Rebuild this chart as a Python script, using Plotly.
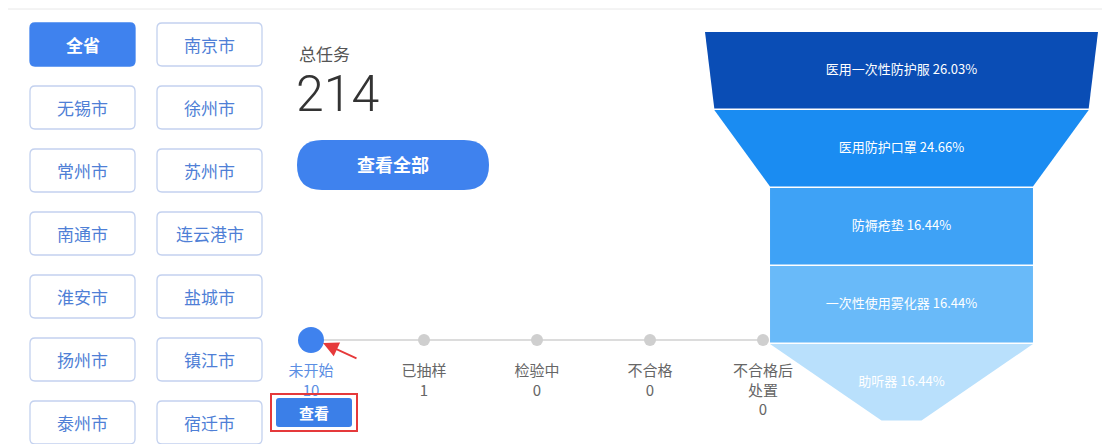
import plotly.graph_objects as go

# ---------------- data ----------------
cities = ["全省", "南京市", "无锡市", "徐州市", "常州市", "苏州市", "南通市",
          "连云港市", "淮安市", "盐城市", "扬州市", "镇江市", "泰州市", "宿迁市"]
selected_city = "全省"

total_label = "总任务"
total_tasks = 214

stages = ["未开始", "已抽样", "检验中", "不合格", "不合格后<br>处置"]
stage_counts = [10, 1, 0, 0, 0]
current_stage = 0

products = ["医用一次性防护服", "医用防护口罩", "防褥疮垫", "一次性使用雾化器", "助听器"]
product_pct = [26.03, 24.66, 16.44, 16.44, 16.44]

# ---------------- style / layout constants ----------------
W, H = 1110, 444
PAGE_OFF = 8  # default body margin of the html page
FONT = "Noto Sans CJK SC"
BLUE = "#3f82ee"
BTN_TEXT = "#4f7fd6"
BTN_BORDER = "#c3d1ef"
funnel_colors = ["#0a4db5", "#1a8cf2", "#3ea2f6", "#69baf9", "#b9e0fc"]

fig = go.Figure()
shapes = []
annotations = []


def rrect(x0, y0, x1, y1, r):
    return (f"M{x0+r},{y0} L{x1-r},{y0} Q{x1},{y0} {x1},{y0+r} "
            f"L{x1},{y1-r} Q{x1},{y1} {x1-r},{y1} L{x0+r},{y1} "
            f"Q{x0},{y1} {x0},{y1-r} L{x0},{y0+r} Q{x0},{y0} {x0+r},{y0} Z")


# top separator line
shapes.append(dict(type="line", x0=0, x1=W + 20, y0=9, y1=9, xref="x", yref="y",
                   line=dict(color="#e8e8e8", width=1)))

# ---------------- city buttons ----------------
col_x = [30, 157]
btn_w, btn_h, row0, row_pitch = 105, 43, 23, 63
for i, c in enumerate(cities):
    r, col = divmod(i, 2)
    x0 = col_x[col]
    y0 = row0 + r * row_pitch
    sel = c == selected_city
    shapes.append(dict(type="path", path=rrect(x0, y0, x0 + btn_w, y0 + btn_h, 5),
                       xref="x", yref="y",
                       fillcolor=BLUE if sel else "white",
                       line=dict(color=BLUE if sel else BTN_BORDER, width=1.3)))
    annotations.append(dict(x=x0 + btn_w / 2, y=y0 + btn_h / 2, xref="x", yref="y",
                            text=c, showarrow=False,
                            font=dict(family=FONT, size=17,
                                      color="white" if sel else BTN_TEXT,
                                      weight=700 if sel else 400)))

# ---------------- total ----------------
annotations.append(dict(x=297, y=53, xref="x", yref="y", text=total_label,
                        xanchor="left", showarrow=False,
                        font=dict(family=FONT, size=17, color="#555")))
annotations.append(dict(x=294, y=94, xref="x", yref="y", text=str(total_tasks),
                        xanchor="left", showarrow=False,
                        font=dict(family="Roboto", size=50, color="#333", weight=300)))
shapes.append(dict(type="path", path=rrect(297, 140, 489, 190, 25), xref="x", yref="y",
                   fillcolor=BLUE, line=dict(color=BLUE, width=0)))
annotations.append(dict(x=393, y=164, xref="x", yref="y", text="查看全部",
                        showarrow=False,
                        font=dict(family=FONT, size=18, color="white", weight=700)))

# ---------------- timeline ----------------
tl_x0, tl_step, tl_y = 311, 113, 340
tx = [tl_x0 + i * tl_step for i in range(len(stages))]
fig.add_trace(go.Scatter(x=[tx[0], tx[-1]], y=[tl_y, tl_y], mode="lines",
                         line=dict(color="#dcdcdc", width=2), hoverinfo="skip",
                         showlegend=False))
fig.add_trace(go.Scatter(
    x=tx, y=[tl_y] * len(stages), mode="markers",
    marker=dict(size=[26 if i == current_stage else 12 for i in range(len(stages))],
                color=[BLUE if i == current_stage else "#cfcfcf" for i in range(len(stages))],
                opacity=1, line=dict(width=0)),
    hoverinfo="skip", showlegend=False))
labels = [f"{s}<br>{n}" for s, n in zip(stages, stage_counts)]
fig.add_trace(go.Scatter(
    x=tx, y=[tl_y + 25] * len(stages), mode="text", text=labels,
    textposition="bottom center",
    textfont=dict(family=FONT, size=15,
                  color=["#5b8ee3" if i == current_stage else "#666" for i in range(len(stages))]),
    hoverinfo="skip", showlegend=False))

# 查看 button (covers part of the count) + red highlight box + arrow
shapes.append(dict(type="path", path=rrect(276, 398, 352, 427, 3), xref="x", yref="y",
                   fillcolor="#3b7fe8", line=dict(color="#3b7fe8", width=0), layer="above"))
shapes.append(dict(type="rect", x0=271, x1=357, y0=394, y1=431, xref="x", yref="y",
                   line=dict(color="#e5393b", width=2), layer="above"))
annotations.append(dict(x=314, y=412, xref="x", yref="y", text="查看", showarrow=False,
                        font=dict(family=FONT, size=15, color="white", weight=700)))
annotations.append(dict(x=tx[0] + 12, y=tl_y + 3, ax=358, ay=359, xref="x", yref="y",
                        axref="x", ayref="y", text="", showarrow=True,
                        arrowhead=2, arrowsize=1.7, arrowwidth=1.8, arrowcolor="#e6393a"))

# ---------------- funnel ----------------
f_cx, f_top, f_seg_h, f_gap = 901.5, 32, 78, 1.5
f_max_w, f_min_w = 393, 40
vmax = max(product_pct)


def fw(v):
    return f_min_w + v / vmax * (f_max_w - f_min_w)


for i, (name, v) in enumerate(zip(products, product_pct)):
    nxt = product_pct[i + 1] if i + 1 < len(product_pct) else 0
    wt, wb = fw(v), fw(nxt)
    y0 = f_top + i * f_seg_h
    y1 = y0 + f_seg_h - f_gap
    fig.add_trace(go.Scatter(
        x=[f_cx - wt / 2, f_cx + wt / 2, f_cx + wb / 2, f_cx - wb / 2, f_cx - wt / 2],
        y=[y0, y0, y1, y1, y0], fill="toself", fillcolor=funnel_colors[i],
        mode="lines", line=dict(width=0, color=funnel_colors[i]),
        hoverinfo="skip", showlegend=False))
    fig.add_trace(go.Scatter(
        x=[f_cx], y=[(y0 + y1) / 2], mode="text", text=[f"{name} {v:.2f}%"],
        textfont=dict(family=FONT, size=13, color="white"),
        hoverinfo="skip", showlegend=False))

fig.update_layout(
    width=W, height=H, margin=dict(l=0, r=0, t=0, b=0),
    paper_bgcolor="white", plot_bgcolor="white",
    xaxis=dict(range=[PAGE_OFF, W + PAGE_OFF], visible=False, fixedrange=True),
    yaxis=dict(range=[H + PAGE_OFF, PAGE_OFF], visible=False, fixedrange=True),
    shapes=shapes, annotations=annotations, showlegend=False,
)
fig.write_html("out.html")
